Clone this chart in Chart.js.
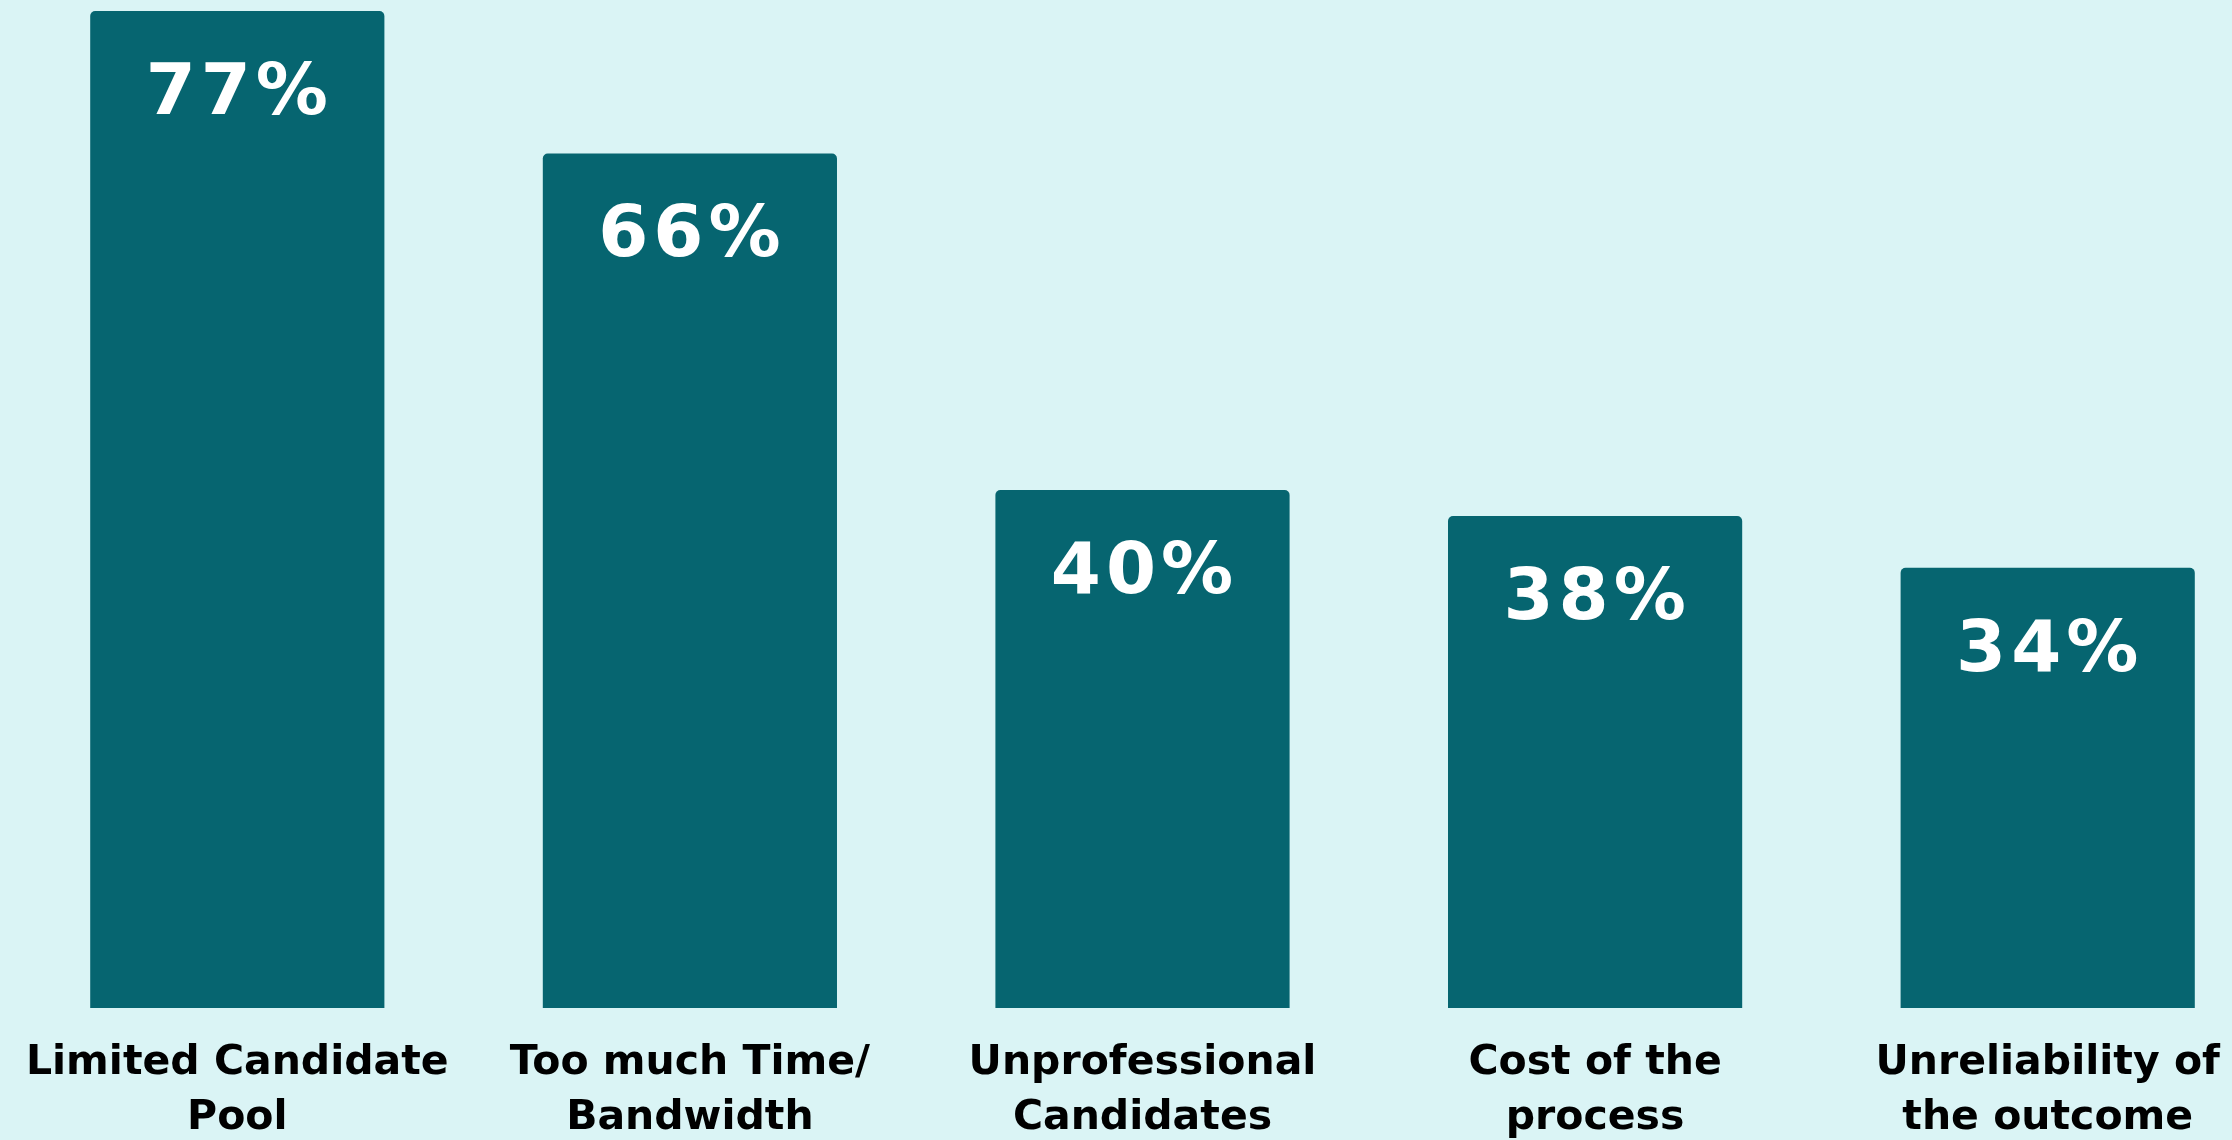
<!DOCTYPE html>
<html lang="en">
<head>
    <meta charset="UTF-8">
    <title>Hiring Challenges</title>
    <style>
        html, body {
            margin: 0;
            padding: 0;
            background-color: #daf4f5;
            overflow: hidden;
        }
        .chart-container {
            position: relative;
            width: 2290px;
            height: 1174px;
        }
    </style>
    <script src="https://cdn.jsdelivr.net/npm/chart.js"></script>
</head>
<body>

<div class="chart-container">
    <canvas id="challengeChart"></canvas>
</div>

<script>
    // Categories (split into two lines each) and share of respondents
    const categories = [
        ['Limited Candidate', 'Pool'],
        ['Too much Time/', 'Bandwidth'],
        ['Unprofessional', 'Candidates'],
        ['Cost of the', 'process'],
        ['Unreliability of', 'the outcome']
    ];
    const percentages = [77, 66, 40, 38, 34];

    const barColor = '#066570';
    const fontFamily = '"DejaVu Sans", Verdana, sans-serif';

    // White percentage written near the top of each bar
    const valueLabels = {
        id: 'valueLabels',
        afterDatasetsDraw(chart) {
            const ctx = chart.ctx;
            const meta = chart.getDatasetMeta(0);
            ctx.save();
            ctx.fillStyle = '#ffffff';
            ctx.font = 'bold 72px ' + fontFamily;
            ctx.letterSpacing = '5px';
            ctx.textAlign = 'center';
            ctx.textBaseline = 'alphabetic';
            meta.data.forEach((bar, i) => {
                ctx.fillText(percentages[i] + '%', bar.x + 2, bar.y + 103);
            });
            ctx.restore();
        }
    };

    const ctx = document.getElementById('challengeChart').getContext('2d');
    const challengeChart = new Chart(ctx, {
        type: 'bar',
        data: {
            labels: categories,
            datasets: [{
                data: percentages,
                backgroundColor: barColor,
                borderRadius: { topLeft: 5, topRight: 5 },
                borderSkipped: 'bottom',
                categoryPercentage: 1,
                barPercentage: 0.65
            }]
        },
        options: {
            responsive: true,
            maintainAspectRatio: false,
            animation: false,
            layout: {
                padding: { left: 11, right: 16, top: 11, bottom: 0 }
            },
            plugins: {
                legend: { display: false },
                tooltip: { enabled: false }
            },
            scales: {
                x: {
                    grid: { display: false, drawTicks: false },
                    border: { display: false },
                    ticks: {
                        color: '#000000',
                        padding: 28,
                        maxRotation: 0,
                        autoSkip: false,
                        font: { family: fontFamily, size: 41, weight: 'bold', lineHeight: '55px' }
                    },
                    afterFit(scale) {
                        scale.paddingLeft = 0;
                        scale.paddingRight = 0;
                    }
                },
                y: {
                    display: false,
                    min: 0,
                    max: 77
                }
            }
        },
        plugins: [valueLabels]
    });
</script>

</body>
</html>
